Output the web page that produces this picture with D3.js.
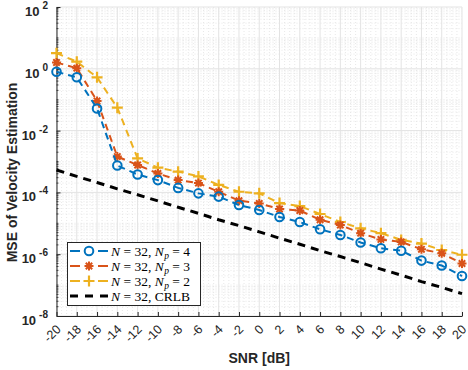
<!DOCTYPE html>
<html>
<head>
<meta charset="utf-8">
<script src="https://cdn.jsdelivr.net/npm/d3@7"></script>
<style>
  html, body { margin: 0; padding: 0; background: #fff; }
  svg { display: block; }
</style>
</head>
<body>
<svg id="chart" width="468" height="370"></svg>
<script>
// ---------------- data ----------------
const snr = [-20, -18, -16, -14, -12, -10, -8, -6, -4, -2, 0, 2, 4, 6, 8, 10, 12, 14, 16, 18, 20];
const mseNp4 = [0.8, 0.53, 0.052, 7.4e-4, 3.8e-4, 2.5e-4, 1.4e-4, 9.3e-5, 7.3e-5, 3.9e-5, 2.7e-5, 1.6e-5, 1.1e-5, 6.4e-6, 4.2e-6, 2.4e-6, 1.55e-6, 1.3e-6, 6.2e-7, 4.3e-7, 1.96e-7];
const mseNp3 = [1.6, 1.05, 0.091, 1.44e-3, 7.7e-4, 4.1e-4, 2.5e-4, 2.0e-4, 1.05e-4, 5.4e-5, 4.4e-5, 2.9e-5, 2.6e-5, 1.3e-5, 8.8e-6, 4.8e-6, 3.0e-6, 2.5e-6, 1.44e-6, 1.07e-6, 5.0e-7];
const mseNp2 = [3.2, 1.7, 0.53, 0.055, 1.26e-3, 6.3e-4, 4.7e-4, 3.3e-4, 1.74e-4, 1.05e-4, 9.3e-5, 4.5e-5, 3.6e-5, 2.0e-5, 1.1e-5, 6.9e-6, 4.8e-6, 2.9e-6, 2.2e-6, 1.37e-6, 9.6e-7];
const crlb = [5.3e-4, 3.3e-4, 2.1e-4, 1.3e-4, 8.4e-5, 5.3e-5, 3.3e-5, 2.1e-5, 1.3e-5, 8.4e-6, 5.3e-6, 3.3e-6, 2.1e-6, 1.3e-6, 8.4e-7, 5.3e-7, 3.3e-7, 2.1e-7, 1.3e-7, 8.4e-8, 5.3e-8];
const xTickValues = [-20, -18, -16, -14, -12, -10, -8, -6, -4, -2, 0, 2, 4, 6, 8, 10, 12, 14, 16, 18, 20];
const yTickExponents = [-8, -6, -4, -2, 0, 2];
const seriesNames = ["Np4", "Np3", "Np2", "CRLB"];
const legendLabels = [
  {n: "32", sub: "p", val: "4"},
  {n: "32", sub: "p", val: "3"},
  {n: "32", sub: "p", val: "2"},
  {n: "32", sub: null, val: "CRLB"}
];
const xLabel = "SNR [dB]";
const yLabel = "MSE of Velocity Estimation";

// ---------------- layout ----------------
const L = 56.5, R = 462, T = 7, B = 316;
const svg = d3.select("#chart");
const x = d3.scaleLinear().domain([-20, 20]).range([L, R]);
const y = d3.scaleLog().domain([1e-8, 1e2]).range([B, T]);
const axisColor = "#262626";

const styles = {
  Np4: {color: "#0072BD", marker: "circle", width: 2, dash: "7,5"},
  Np3: {color: "#D95319", marker: "star", width: 2, dash: "7,5"},
  Np2: {color: "#EDB120", marker: "plus", width: 2, dash: "7,5"},
  CRLB: {color: "#000000", marker: null, width: 3, dash: "8,6"}
};
const seriesData = {Np4: mseNp4, Np3: mseNp3, Np2: mseNp2, CRLB: crlb};

// ---------------- grid ----------------
const grid = svg.append("g");
const xMinor = d3.range(-20, 20.001, 0.5).filter(v => Math.abs(v / 2 - Math.round(v / 2)) > 1e-6);
grid.selectAll(".xmin").data(xMinor).enter().append("line")
  .attr("x1", d => x(d)).attr("x2", d => x(d)).attr("y1", T).attr("y2", B)
  .attr("stroke", "#dedede").attr("stroke-width", 0.7).attr("stroke-dasharray", "1,2");
const yMinor = [];
for (let e = -8; e < 2; e++) {
  for (let m = 1; m <= 9; m++) {
    if (m === 1 && e % 2 === 0) continue;
    yMinor.push(m * Math.pow(10, e));
  }
}
grid.selectAll(".ymin").data(yMinor).enter().append("line")
  .attr("x1", L).attr("x2", R).attr("y1", d => y(d)).attr("y2", d => y(d))
  .attr("stroke", "#dedede").attr("stroke-width", 0.7).attr("stroke-dasharray", "1,2");
grid.selectAll(".xmaj").data(xTickValues).enter().append("line")
  .attr("x1", d => x(d)).attr("x2", d => x(d)).attr("y1", T).attr("y2", B)
  .attr("stroke", "#e3e3e3").attr("stroke-width", 1);
grid.selectAll(".ymaj").data(yTickExponents).enter().append("line")
  .attr("x1", L).attr("x2", R).attr("y1", d => y(Math.pow(10, d))).attr("y2", d => y(Math.pow(10, d)))
  .attr("stroke", "#e3e3e3").attr("stroke-width", 1);

// ---------------- axes ----------------
const xAxis = svg.append("g").attr("transform", `translate(0,${B})`)
  .call(d3.axisBottom(x).tickValues(xTickValues).tickSize(-4).tickSizeOuter(0).tickFormat(""));
const yAxis = svg.append("g").attr("transform", `translate(${L},0)`)
  .call(d3.axisLeft(y).tickValues(yTickExponents.map(e => Math.pow(10, e))).tickSize(-4).tickSizeOuter(0).tickFormat(""));
[xAxis, yAxis].forEach(g => {
  g.select(".domain").attr("stroke", axisColor).attr("stroke-width", 1);
  g.selectAll(".tick line").attr("stroke", axisColor);
});
svg.append("g").selectAll("line").data(yMinor).enter().append("line")
  .attr("x1", L).attr("x2", L + 2).attr("y1", d => y(d)).attr("y2", d => y(d))
  .attr("stroke", axisColor).attr("stroke-width", 0.8);

// x tick labels (rotated)
svg.append("g").selectAll("text").data(xTickValues).enter().append("text")
  .attr("transform", d => `translate(${x(d) + 2},${B + 11}) rotate(-45)`)
  .attr("text-anchor", "end")
  .attr("dy", "0.35em")
  .attr("font-family", "Liberation Sans, Arial, sans-serif")
  .attr("font-size", 12.5)
  .attr("fill", axisColor)
  .text(d => d);

// y tick labels 10^k
const yl = svg.append("g").selectAll("text").data(yTickExponents).enter().append("text")
  .attr("x", 48)
  .attr("y", d => y(Math.pow(10, d)) + 9)
  .attr("text-anchor", "end")
  .attr("font-family", "Liberation Sans, Arial, sans-serif")
  .attr("font-size", 13)
  .attr("font-weight", "bold")
  .attr("fill", axisColor);
yl.append("tspan").text("10");
yl.append("tspan").attr("dx", 3).attr("dy", -7).attr("font-size", 10).text(d => d);

// axis labels
svg.append("text")
  .attr("x", (L + R) / 2).attr("y", 363)
  .attr("text-anchor", "middle")
  .attr("font-family", "Liberation Sans, Arial, sans-serif")
  .attr("font-size", 14).attr("font-weight", "bold").attr("fill", axisColor)
  .text(xLabel);
svg.append("text")
  .attr("transform", `translate(17,${(T + B) / 2 + 11}) rotate(-90)`)
  .attr("text-anchor", "middle")
  .attr("font-family", "Liberation Sans, Arial, sans-serif")
  .attr("font-size", 14).attr("font-weight", "bold").attr("fill", axisColor)
  .text(yLabel);

// ---------------- series ----------------
function drawMarker(g, type, color) {
  if (type === "circle") {
    g.append("circle").attr("r", 4.3).attr("fill", "none").attr("stroke", color).attr("stroke-width", 2);
  } else if (type === "plus") {
    g.append("path").attr("d", "M-5.5,0H5.5M0,-5.5V5.5").attr("stroke", color).attr("stroke-width", 2.2).attr("fill", "none");
  } else if (type === "star") {
    g.append("path").attr("d", "M-4.5,0H4.5M0,-4.5V4.5M-3.2,-3.2L3.2,3.2M-3.2,3.2L3.2,-3.2")
      .attr("stroke", color).attr("stroke-width", 2).attr("fill", "none");
  }
}
const line = d3.line().x(d => x(d[0])).y(d => y(d[1]));
const plot = svg.append("g");
["CRLB", "Np2", "Np3", "Np4"].forEach(name => {
  const st = styles[name];
  const pts = snr.map((s, i) => [s, seriesData[name][i]]);
  plot.append("path").datum(pts).attr("d", line)
    .attr("fill", "none").attr("stroke", st.color).attr("stroke-width", st.width)
    .attr("stroke-dasharray", st.dash);
  if (st.marker) {
    pts.forEach(p => {
      const g = plot.append("g").attr("transform", `translate(${x(p[0])},${y(p[1])})`);
      drawMarker(g, st.marker, st.color);
    });
  }
});

// ---------------- legend ----------------
const lg = svg.append("g");
lg.append("rect").attr("x", 67.5).attr("y", 242.5).attr("width", 133).attr("height", 63)
  .attr("fill", "#fff").attr("stroke", axisColor).attr("stroke-width", 1);
const rowY = [251, 266, 281, 296];
seriesNames.forEach((name, i) => {
  const st = styles[name];
  const yy = rowY[i];
  lg.append("line").attr("x1", 70).attr("x2", 108).attr("y1", yy).attr("y2", yy)
    .attr("stroke", st.color).attr("stroke-width", st.width)
    .attr("stroke-dasharray", name === "CRLB" ? "8,7" : "10,18");
  if (st.marker) {
    const g = lg.append("g").attr("transform", `translate(89,${yy})`);
    drawMarker(g, st.marker, st.color);
  }
  const lab = legendLabels[i];
  const t = lg.append("text").attr("x", 111).attr("y", yy + 5)
    .attr("font-family", "Liberation Serif, Times New Roman, serif")
    .attr("font-size", 13.5).attr("fill", "#000");
  t.append("tspan").attr("font-style", "italic").text("N");
  t.append("tspan").text(" = " + lab.n + ", ");
  if (lab.sub) {
    t.append("tspan").attr("font-style", "italic").text("N");
    t.append("tspan").attr("font-style", "italic").attr("font-size", 9.5).attr("dx", 0.5).attr("dy", 2.5).text(lab.sub);
    t.append("tspan").attr("dy", -2.5).text(" = " + lab.val);
  } else {
    t.append("tspan").text(lab.val);
  }
});
</script>
</body>
</html>
